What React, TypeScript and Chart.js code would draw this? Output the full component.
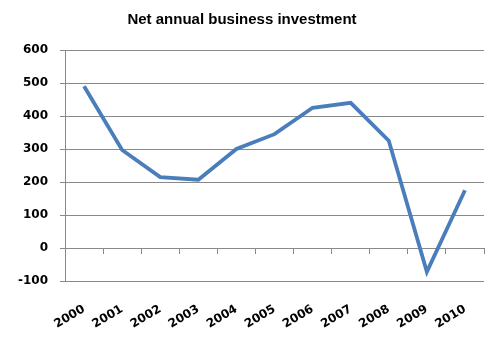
import React, { useEffect, useRef } from "react";
import { Chart, registerables } from "chart.js";

Chart.register(...registerables);

const title = "Net annual business investment";
const years = ["2000", "2001", "2002", "2003", "2004", "2005", "2006", "2007", "2008", "2009", "2010"];
const investment = [490, 297, 215, 207, 300, 345, 425, 440, 325, -72, 175];
const yMin = -100;
const yMax = 600;
const yStep = 100;

const gridColor = "#898989";
const lineColor = "#4A7EBB";
const tickFont = { family: "DejaVu Sans", size: 12, weight: "bold" as const };

export default function App() {
  const ref = useRef<HTMLCanvasElement | null>(null);

  useEffect(() => {
    if (!ref.current) return;
    const chart = new Chart(ref.current, {
      type: "line",
      data: {
        labels: years,
        datasets: [
          {
            data: investment,
            borderColor: lineColor,
            backgroundColor: lineColor,
            borderWidth: 3.8,
            pointRadius: 0,
            tension: 0,
            xAxisID: "x",
            yAxisID: "y",
          },
        ],
      },
      options: {
        animation: false,
        responsive: true,
        maintainAspectRatio: false,
        layout: { padding: { left: 0, right: 16, top: 0, bottom: 0 } },
        plugins: {
          legend: { display: false },
          tooltip: { enabled: false },
          title: {
            display: true,
            text: title,
            color: "#000",
            font: { family: "Liberation Sans", size: 15, weight: "bold" },
            lineHeight: 1.2,
            padding: { top: 11, bottom: 21 },
          },
        },
        scales: {
          y: {
            min: yMin,
            max: yMax,
            ticks: { stepSize: yStep, color: "#000", font: tickFont, padding: 12 },
            grid: { color: gridColor, lineWidth: 1, drawTicks: true, tickLength: 5 },
            border: { display: true, color: gridColor, width: 1 },
            afterFit: (s: any) => {
              s.width = 65;
            },
          },
          x: {
            type: "category",
            position: { y: 0 } as any,
            offset: true,
            ticks: { display: false },
            grid: { display: true, drawOnChartArea: false, drawTicks: true, tickLength: 5, color: gridColor, offset: true },
            border: { display: true, color: gridColor, width: 1 },
          },
          x2: {
            type: "category",
            position: "bottom",
            labels: years,
            offset: true,
            ticks: { color: "#000", font: tickFont, minRotation: 31, maxRotation: 31, padding: 21, autoSkip: false },
            grid: { display: false, drawTicks: false },
            border: { display: false },
            afterFit: (s: any) => {
              s.height = 72;
            },
          },
        },
      },
    });
    return () => chart.destroy();
  }, []);

  return (
    <div style={{ position: "absolute", left: 0, top: 0, width: 500, height: 353, background: "#fff" }}>
      <canvas ref={ref} />
    </div>
  );
}
